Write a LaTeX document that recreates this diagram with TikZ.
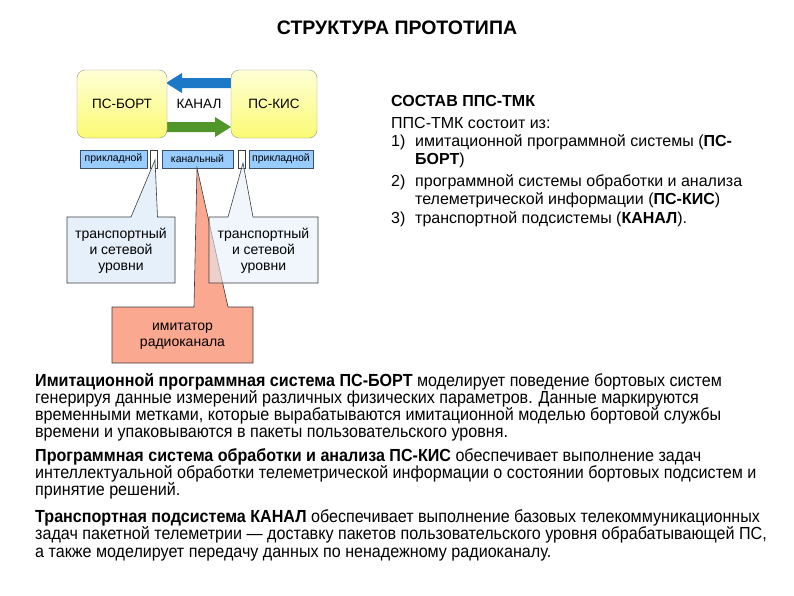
\documentclass[tikz,border=0pt]{standalone}
\usepackage{fontspec}
\setmainfont{Liberation Sans}
\newfontfamily\narrowfont[FakeStretch=0.92]{Liberation Sans}
\definecolor{ytop}{RGB}{255,255,215}
\definecolor{ybot}{RGB}{250,250,115}
\definecolor{arrblue}{RGB}{30,120,200}
\definecolor{arrgreen}{RGB}{80,150,40}
\definecolor{lblfill}{RGB}{153,204,255}
\definecolor{lblline}{RGB}{60,80,110}
\definecolor{callfill}{RGB}{230,240,250}
\definecolor{redfill}{RGB}{250,168,144}
\definecolor{edge}{RGB}{60,60,60}
\begin{document}
\begin{tikzpicture}[x=1pt,y=-1pt,
  ybox/.style={draw={rgb,255:red,150;green,150;blue,150}, rounded corners=8pt, top color=ytop, bottom color=ybot,
    minimum width=90pt, minimum height=68pt, inner sep=0pt, font=\fontsize{13.5}{16}\selectfont},
  lbl/.style={draw=lblline, fill=lblfill, minimum height=18pt, inner sep=0pt, font=\fontsize{10.5}{12}\selectfont},
  wbox/.style={draw=edge, fill=white, minimum height=18pt, minimum width=7pt, inner sep=0pt},
  calltext/.style={align=center, font=\fontsize{14}{16}\selectfont},
  righttext/.style={anchor=base west, inner sep=0pt, font=\fontsize{16}{18}\selectfont},
  bottext/.style={anchor=base west, inner sep=0pt, font=\narrowfont\fontsize{17.5}{17}\selectfont}
]
\useasboundingbox[fill=white] (0,0) rectangle (794,595);

\node[font=\bfseries\fontsize{19.5}{22}\selectfont] (title) at (397,28) {СТРУКТУРА ПРОТОТИПА};

% arrows
\fill[arrblue] (236,78) -- (182,78) -- (182,73) -- (166,83) -- (182,93) -- (182,88) -- (236,88) -- cycle;
\fill[arrgreen] (162,122) -- (215,122) -- (215,117) -- (231,127) -- (215,137) -- (215,132) -- (162,132) -- cycle;

\node[ybox] (bort) at (122,104) {ПС-БОРТ};
\node[ybox, minimum width=86pt] (kis) at (274,104) {ПС-КИС};
\node[font=\fontsize{13.5}{16}\selectfont] (kanal) at (199,104) {КАНАЛ};

% layer labels
\node[lbl, minimum width=67pt] (pr1) at (113.5,159) {прикладной};
\node[wbox] (w1) at (153.5,159) {};
\node[lbl, minimum width=71pt] (kan) at (197.5,159) {канальный};
\node[wbox] (w2) at (241.5,159) {};
\node[lbl, minimum width=64pt] (pr2) at (281,159) {прикладной};

% red callout
\filldraw[fill=redfill, draw=edge, line width=0.6pt]
  (112,307) -- (194,307) -- (197,168) -- (228,307) -- (253,307) -- (253,363) -- (112,363) -- cycle;
\node[calltext] (imit) at (182.5,336) {имитатор\\радиоканала};

% left callout
\filldraw[fill=callfill, draw=edge, line width=0.6pt]
  (67,217) -- (131,217) -- (155,160) -- (157.5,217) -- (175,217) -- (175,283) -- (67,283) -- cycle;
\node[calltext] (tr1) at (121,251) {транспортный\\и сетевой\\уровни};

% right callout (semi-transparent over the red one)
\filldraw[fill=callfill, fill opacity=0.55, draw=edge, line width=0.6pt]
  (209,217) -- (228,217) -- (243,163) -- (253,217) -- (318,217) -- (318,283) -- (209,283) -- cycle;
\node[calltext] (tr2) at (263.5,251) {транспортный\\и сетевой\\уровни};

% right text block
\node[righttext, font=\bfseries\fontsize{16}{18}\selectfont] (hdr) at (391,106) {СОСТАВ ППС-ТМК};
\node[righttext] (l1) at (391,128) {ППС-ТМК состоит из:};
\node[righttext] (n1) at (391,146) {1)};
\node[righttext] (t1a) at (415,146) {имитационной программной системы (\textbf{ПС-}};
\node[righttext] (t1b) at (415,164) {\textbf{БОРТ})};
\node[righttext] (n2) at (391,186) {2)};
\node[righttext] (t2a) at (415,186) {программной системы обработки и анализа};
\node[righttext] (t2b) at (415,204) {телеметрической информации (\textbf{ПС-КИС})};
\node[righttext] (n3) at (391,223) {3)};
\node[righttext] (t3) at (415,223) {транспортной подсистемы (\textbf{КАНАЛ}).};

% bottom text
\node[bottext] (p1a) at (35,386) {\textbf{Имитационной программная система ПС-БОРТ} моделирует поведение бортовых систем};
\node[bottext] (p1b) at (35,403) {генерируя данные измерений различных физических параметров. Данные маркируются};
\node[bottext] (p1c) at (35,420) {временными метками, которые вырабатываются имитационной моделью бортовой службы};
\node[bottext] (p1d) at (35,437) {времени и упаковываются в пакеты пользовательского уровня.};
\node[bottext] (p2a) at (35,461) {\textbf{Программная система обработки и анализа ПС-КИС} обеспечивает выполнение задач};
\node[bottext] (p2b) at (35,478) {интеллектуальной обработки телеметрической информации о состоянии бортовых подсистем и};
\node[bottext] (p2c) at (35,495) {принятие решений.};
\node[bottext] (p3a) at (35,522) {\textbf{Транспортная подсистема КАНАЛ} обеспечивает выполнение базовых телекоммуникационных};
\node[bottext] (p3b) at (35,539) {задач пакетной телеметрии — доставку пакетов пользовательского уровня обрабатывающей ПС,};
\node[bottext] (p3c) at (35,557) {а также моделирует передачу данных по ненадежному радиоканалу.};
\end{tikzpicture}
\end{document}
